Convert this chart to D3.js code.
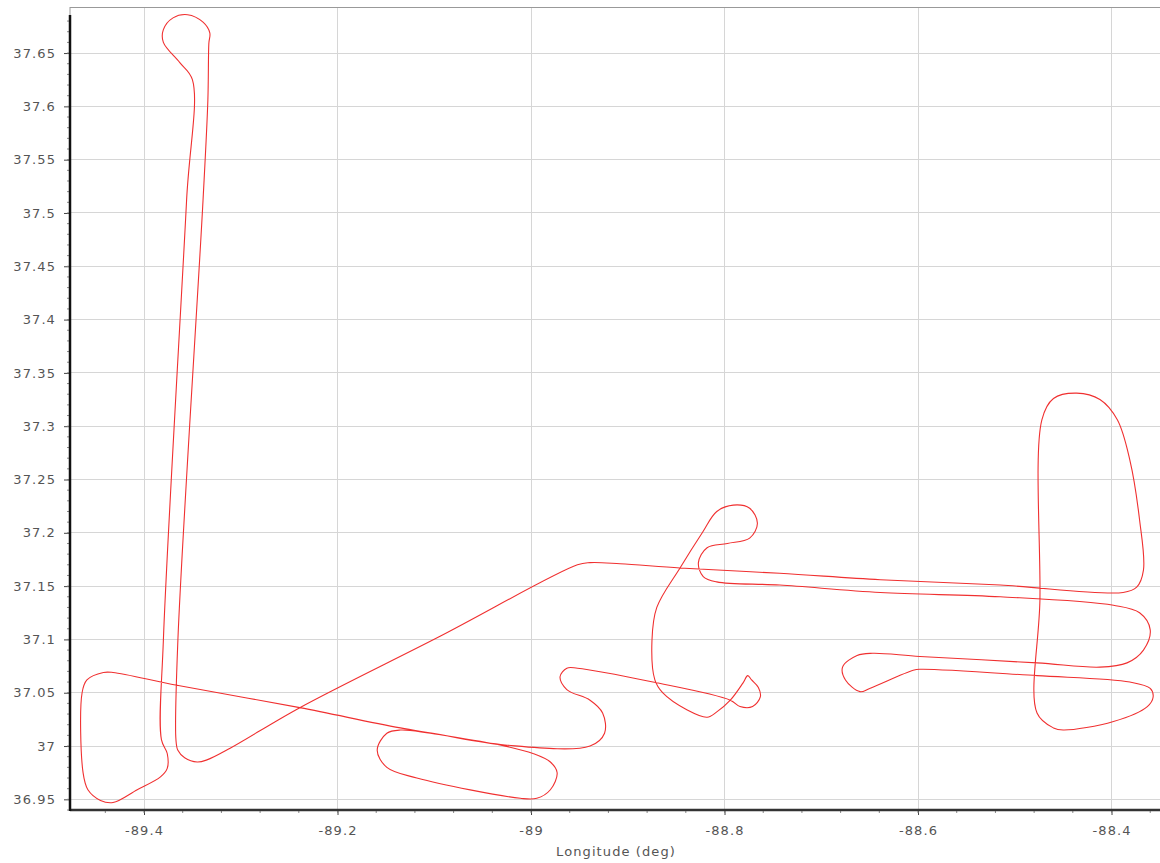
<!DOCTYPE html>
<html>
<head>
<meta charset="utf-8">
<script src="https://cdn.jsdelivr.net/npm/d3@7"></script>
<style>
  html, body { margin: 0; padding: 0; background: #fff; }
  svg { display: block; }
  text { font-family: "DejaVu Sans", Verdana, sans-serif; fill: #555; }
</style>
</head>
<body>
<svg id="chart" width="1160" height="863"></svg>
<script>
// Flight track (closed), longitude / latitude in degrees
const trackLon = [
  -88.388, -88.515, -88.639, -88.743, -88.846, -88.908, -88.939, -88.952, -89.094, -89.239,
  -89.311, -89.335, -89.345, -89.358, -89.365, -89.367, -89.365, -89.339, -89.334, -89.333,
  -89.332, -89.339, -89.355, -89.370, -89.380, -89.380, -89.363, -89.350, -89.356, -89.380,
  -89.382, -89.376, -89.376, -89.383, -89.407, -89.432, -89.445, -89.458, -89.463, -89.464,
  -89.459, -89.442, -89.432, -89.366, -89.239, -89.135, -89.032, -88.998, -88.980, -88.973,
  -88.980, -88.994, -89.011, -89.118, -89.149, -89.159, -89.149, -89.135, -89.104, -89.027,
  -88.939, -88.924, -88.926, -88.939, -88.963, -88.970, -88.963, -88.952, -88.874, -88.794,
  -88.784, -88.771, -88.763, -88.765, -88.772, -88.776, -88.781, -88.794, -88.808, -88.818,
  -88.839, -88.864, -88.872, -88.875, -88.870, -88.846, -88.823, -88.808, -88.791, -88.774,
  -88.766, -88.774, -88.797, -88.818, -88.827, -88.822, -88.808, -88.743, -88.639, -88.515,
  -88.398, -88.371, -88.360, -88.367, -88.384, -88.412, -88.477, -88.598, -88.647, -88.663,
  -88.678, -88.675, -88.660, -88.650, -88.605, -88.598, -88.477, -88.381, -88.360, -88.357,
  -88.363, -88.398, -88.450, -88.460, -88.477, -88.474, -88.472, -88.460, -88.436, -88.412,
  -88.394, -88.381, -88.371, -88.367, -88.374
];
const trackLat = [
  37.144, 37.151, 37.156, 37.162, 37.167, 37.171, 37.172, 37.170, 37.103, 37.036,
  36.998, 36.987, 36.985, 36.989, 36.996, 37.006, 37.099, 37.512, 37.606, 37.659,
  37.669, 37.679, 37.686, 37.683, 37.672, 37.660, 37.641, 37.625, 37.512, 37.099,
  37.006, 36.993, 36.979, 36.971, 36.959, 36.947, 36.949, 36.959, 36.975, 37.050,
  37.062, 37.069, 37.069, 37.057, 37.036, 37.017, 37.001, 36.993, 36.985, 36.975,
  36.959, 36.951, 36.951, 36.970, 36.980, 36.996, 37.012, 37.015, 37.012, 37.001,
  37.000, 37.012, 37.031, 37.043, 37.053, 37.065, 37.073, 37.073, 37.060, 37.043,
  37.037, 37.037, 37.046, 37.055, 37.062, 37.066, 37.059, 37.043, 37.032, 37.027,
  37.034, 37.050, 37.062, 37.099, 37.130, 37.167, 37.200, 37.220, 37.226, 37.223,
  37.209, 37.195, 37.190, 37.186, 37.172, 37.159, 37.154, 37.151, 37.144, 37.140,
  37.132, 37.125, 37.109, 37.090, 37.078, 37.074, 37.078, 37.084, 37.087, 37.085,
  37.074, 37.062, 37.051, 37.054, 37.071, 37.072, 37.066, 37.060, 37.054, 37.046,
  37.037, 37.023, 37.015, 37.017, 37.031, 37.137, 37.306, 37.326, 37.331, 37.325,
  37.306, 37.268, 37.212, 37.165, 37.149
];
const xTickValues = [-89.4, -89.2, -89.0, -88.8, -88.6, -88.4];
const xTickLabels = ["-89.4", "-89.2", "-89", "-88.8", "-88.6", "-88.4"];
const yTickValues = [36.95, 37.0, 37.05, 37.1, 37.15, 37.2, 37.25, 37.3, 37.35, 37.4, 37.45, 37.5, 37.55, 37.6, 37.65];
const yTickLabels = ["36.95", "37", "37.05", "37.1", "37.15", "37.2", "37.25", "37.3", "37.35", "37.4", "37.45", "37.5", "37.55", "37.6", "37.65"];
const xTitle = "Longitude (deg)";

(function () {
const svg = d3.select("#chart");
const pL = 70, pR = 1160, pT = 7, pB = 810;
const fontSize = "13px", spacing = "1.1px";

const x = d3.scaleLinear().domain([-89.4765, -88.3499]).range([pL, pR]);
const y = d3.scaleLinear().domain([36.94, 37.6932]).range([pB, pT]);

// grid
const grid = svg.append("g");
grid.selectAll("line.vg").data(xTickValues).join("line")
  .attr("x1", d => x(d)).attr("x2", d => x(d))
  .attr("y1", pT).attr("y2", pB)
  .attr("stroke", "#d6d6d6").attr("stroke-width", 1).attr("shape-rendering", "crispEdges");
grid.selectAll("line.hg").data(yTickValues).join("line")
  .attr("x1", pL).attr("x2", pR)
  .attr("y1", d => y(d)).attr("y2", d => y(d))
  .attr("stroke", "#d6d6d6").attr("stroke-width", 1).attr("shape-rendering", "crispEdges");

// frame top
svg.append("line").attr("x1", pL).attr("x2", pR).attr("y1", pT + 0.5).attr("y2", pT + 0.5)
  .attr("stroke", "#999").attr("stroke-width", 1);
svg.append("line").attr("x1", pL).attr("x2", pL).attr("y1", pT).attr("y2", 16)
  .attr("stroke", "#999").attr("stroke-width", 1);

// track
const pts = trackLon.map((lon, i) => [lon, trackLat[i]]);
const line = d3.line().x(d => x(d[0])).y(d => y(d[1])).curve(d3.curveCatmullRomClosed.alpha(0.5));
svg.append("path").attr("d", line(pts))
  .attr("fill", "none").attr("stroke", "#f03030").attr("stroke-width", 1.1)
  .attr("stroke-linejoin", "round");

// x axis
const xMinor = d3.range(-89.44, -88.35, 0.04);
const xAxis = d3.axisBottom(x).tickValues(xTickValues)
  .tickFormat((d, i) => xTickLabels[i]).tickSize(5).tickPadding(11);
const gx = svg.append("g").attr("transform", `translate(0,${pB})`).call(xAxis);
gx.select(".domain").remove();
gx.selectAll(".tick line").attr("stroke", "#444");
gx.selectAll(".tick text").style("font-size", fontSize).style("letter-spacing", spacing)
  .style("font-family", "DejaVu Sans, sans-serif").attr("fill", "#555");
svg.append("g").selectAll("line").data(xMinor).join("line")
  .attr("x1", d => x(d)).attr("x2", d => x(d))
  .attr("y1", pB).attr("y2", pB + 3)
  .attr("stroke", "#888");
svg.append("line").attr("x1", pL).attr("x2", pR).attr("y1", pB).attr("y2", pB)
  .attr("stroke", "#333").attr("stroke-width", 2.5);

// y axis
const yMinor = d3.range(36.94, 37.69, 0.01);
const yAxis = d3.axisLeft(y).tickValues(yTickValues)
  .tickFormat((d, i) => yTickLabels[i]).tickSize(6).tickPadding(8);
const gy = svg.append("g").attr("transform", `translate(${pL},0)`).call(yAxis);
gy.select(".domain").remove();
gy.selectAll(".tick line").attr("stroke", "#444");
gy.selectAll(".tick text").style("font-size", fontSize).style("letter-spacing", spacing)
  .style("font-family", "DejaVu Sans, sans-serif").attr("fill", "#555");
svg.append("g").selectAll("line").data(yMinor).join("line")
  .attr("x1", pL - 3).attr("x2", pL)
  .attr("y1", d => y(d)).attr("y2", d => y(d))
  .attr("stroke", "#888");
svg.append("line").attr("x1", pL).attr("x2", pL).attr("y1", 15).attr("y2", pB + 1)
  .attr("stroke", "#111").attr("stroke-width", 2.5);

// title
svg.append("text").attr("x", 616).attr("y", 856).attr("text-anchor", "middle")
  .style("font-size", fontSize).style("letter-spacing", spacing).text(xTitle);
})();
</script>
</body>
</html>
